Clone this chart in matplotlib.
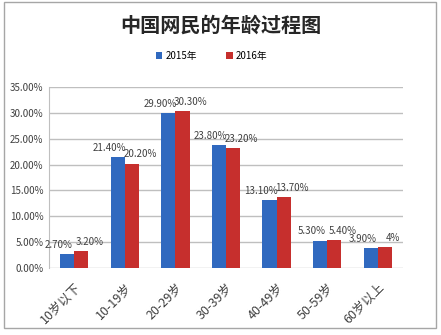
import matplotlib
matplotlib.use("Agg")
import matplotlib.pyplot as plt
import numpy as np
from matplotlib.patches import Rectangle

plt.rcParams['font.family'] = ['Noto Sans CJK SC', 'DejaVu Sans']

categories = ['10岁以下', '10-19岁', '20-29岁', '30-39岁', '40-49岁', '50-59岁', '60岁以上']
v2015 = [2.70, 21.40, 29.90, 23.80, 13.10, 5.30, 3.90]
v2016 = [3.20, 20.20, 30.30, 23.20, 13.70, 5.40, 4.00]
lab2015 = ['2.70%', '21.40%', '29.90%', '23.80%', '13.10%', '5.30%', '3.90%']
lab2016 = ['3.20%', '20.20%', '30.30%', '23.20%', '13.70%', '5.40%', '4%']
series = ['2015年', '2016年']
yticks = [0, 5, 10, 15, 20, 25, 30, 35]

blue = '#3069bf'
red = '#c62f2d'

fig = plt.figure(figsize=(4.41, 3.35), dpi=100)
fig.patch.set_facecolor('white')
fig.add_artist(Rectangle((4/441, 1 - 328/335), 432/441, 326/335, transform=fig.transFigure,
                         fill=False, edgecolor='#a6a6a6', lw=1))

ax = fig.add_axes([49/441, 1 - 268/335, 354/441, 181/335])
x = np.arange(len(categories))
w = 0.28
b1 = ax.bar(x - w/2, v2015, w, color=blue, zorder=3, label=series[0])
b2 = ax.bar(x + w/2, v2016, w, color=red, zorder=3, label=series[1])

for i in range(len(categories)):
    ax.annotate(lab2015[i], (x[i] - w/2, v2015[i]), xytext=(-6, 3), textcoords='offset points',
                ha='center', va='bottom', fontsize=7, color='#404040', zorder=5)
    ax.annotate(lab2016[i], (x[i] + w/2, v2016[i]), xytext=(6, 3), textcoords='offset points',
                ha='center', va='bottom', fontsize=7, color='#404040', zorder=5)

ax.set_xlim(-0.5, len(categories) - 0.5)
ax.set_ylim(0, 35)
ax.set_yticks(yticks)
ax.set_yticklabels([f'{t:.2f}%' for t in yticks], fontsize=7, color='#404040')
ax.set_xticks(x)
ax.set_xticklabels(categories, rotation=45, ha='right', rotation_mode='anchor', fontsize=9, color='#404040')
ax.tick_params(axis='y', length=0, pad=4)
ax.tick_params(axis='x', length=0, pad=9)
ax.yaxis.grid(True, color='#bfbfbf', lw=1, zorder=0)
for s in ['top', 'right', 'bottom']:
    ax.spines[s].set_visible(False)
ax.spines['left'].set_color('#bfbfbf')

fig.text(0.5, 1 - 25/335, '中国网民的年龄过程图', ha='center', va='center', fontsize=14.5,
         fontweight='bold', color='#262626')
fig.legend(handles=[b1, b2], labels=series, loc='center', bbox_to_anchor=(0.5 - 9/441, 1 - 56/335),
           ncol=2, frameon=False, fontsize=7, handlelength=0.7, handleheight=0.7,
           columnspacing=3, handletextpad=0.3)

fig.savefig('out.png', dpi=100, facecolor='white')
